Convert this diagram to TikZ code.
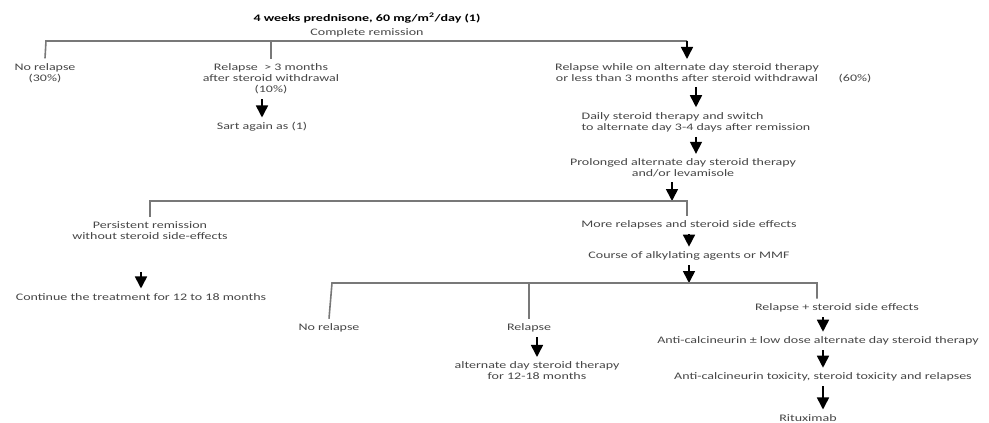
\documentclass[tikz,border=0pt]{standalone}
\usepackage{fontspec}
\setmainfont[FakeStretch=1.4]{Carlito}
\usepackage{tikz}
\usetikzlibrary{arrows.meta}
\definecolor{linegray}{RGB}{120,120,120}
\definecolor{txtgray}{RGB}{70,70,70}
\tikzset{
	txt/.style   = {text = txtgray, align = center, inner sep = 2pt, outer sep = 3pt,
		font = \fontsize{10}{11}\selectfont},
	head/.style  = {txt, text = black, font = \fontsize{10}{11}\selectfont\bfseries},
	bar/.style   = {draw = linegray, line width = 1.6pt}, % branch lines
	arr/.style   = {draw = black, line width = 1.6pt,
		-{Triangle[width = 12pt, length = 12pt]}} % down arrows
}

\begin{document}
\begin{tikzpicture}[x=1pt, y=-1pt]
	\useasboundingbox (0,0) rectangle (989,423);
	% first step
	\draw
	node at (367,18)[head] (pred) {4 weeks prednisone, 60 mg/m\textsuperscript{2}/day (1)}
	node at (367,33)[txt] (crem) {Complete remission}
	node at (45,73)[txt] (nrel1) {No relapse\\(30\%)}
	node at (271,79)[txt] (rgt3) {Relapse\ \ > 3 months\\after steroid withdrawal\\(10\%)}
	node at (262,127)[txt] (sart) {Sart again as (1)}
	node at (687,73)[txt] (rwhile) {Relapse while on alternate day steroid therapy\\or less than 3 months after steroid withdrawal}
	node at (855,79)[txt] (p60) {(60\%)}
	node at (696,122)[txt, align = left] (daily) {Daily steroid therapy and switch\\to alternate day 3-4 days after remission}
	node at (683,168)[txt] (prol) {Prolonged alternate day steroid therapy\\and/or levamisole};
	
	% second step
	\draw
	node at (150,231)[txt] (pers) {Persistent remission\\without steroid side-effects}
	node at (141,297)[txt] (cont) {Continue the treatment for 12 to 18 months}
	node at (689,225)[txt] (more) {More relapses and steroid side effects}
	node at (689,256)[txt] (course) {Course of alkylating agents or MMF};
	
	% third step
	\draw
	node at (329,328)[txt] (nrel2) {No relapse}
	node at (529,328)[txt] (rel) {Relapse}
	node at (537,371)[txt] (alt) {alternate day steroid therapy\\for 12-18 months}
	node at (837,308)[txt] (rse) {Relapse + steroid side effects}
	node at (818,341)[txt] (anti1) {Anti-calcineurin ± low dose alternate day steroid therapy}
	node at (823,377)[txt] (anti2) {Anti-calcineurin toxicity, steroid toxicity and relapses}
	node at (808,418)[txt] (ritux) {Rituximab};
	
	\coordinate (b1l) at (46,41);
	\coordinate (b1r) at (687,41);
	\coordinate (b2l) at (150,201);
	\coordinate (b2r) at (687,201);
	\coordinate (b3l) at (332,283);
	\coordinate (b3m) at (689,283);
	\coordinate (b3r) at (817,283);
	
	\draw[bar] (nrel1.north) -- (b1l) -- (b1r);
	\draw[bar] (rgt3.north) -- (rgt3.north |- b1l);
	\draw[arr] (b1r) -- (b1r |- rwhile.north);
	\draw[arr] (rgt3.south -| sart.north) -- (sart.north);
	\draw[arr] (rwhile.south -| daily.north) -- (daily.north);
	\draw[arr] (daily.south) -- (daily.south |- prol.north);
	\draw[arr] ([xshift=-11pt]prol.south) -- ([xshift=-11pt]prol.south |- b2r);
	
	\draw[bar] (pers.north) -- (b2l) -- (b2r) -- (b2r |- more.north);
	\draw[arr, shorten <=27pt] (pers.south -| cont.north) -- (cont.north);
	\draw[arr] (more) -- (course);
	\draw[arr] (course.south) -- (b3m);
	
	\draw[bar] (nrel2.north) -- (b3l) -- (b3r) -- (b3r |- rse.north);
	\draw[bar] (rel.north) -- (rel.north |- b3l);
	\draw[arr] (alt.north |- rel.south) -- (alt.north);
	\draw[arr] (rse.south -| anti2.north) -- (anti1.north -| anti2.north);
	\draw[arr] (anti1.south -| anti2.north) -- (anti2.north);
	\draw[arr] (anti2.south) -- (anti2.south |- ritux.north);
\end{tikzpicture}
\end{document}
